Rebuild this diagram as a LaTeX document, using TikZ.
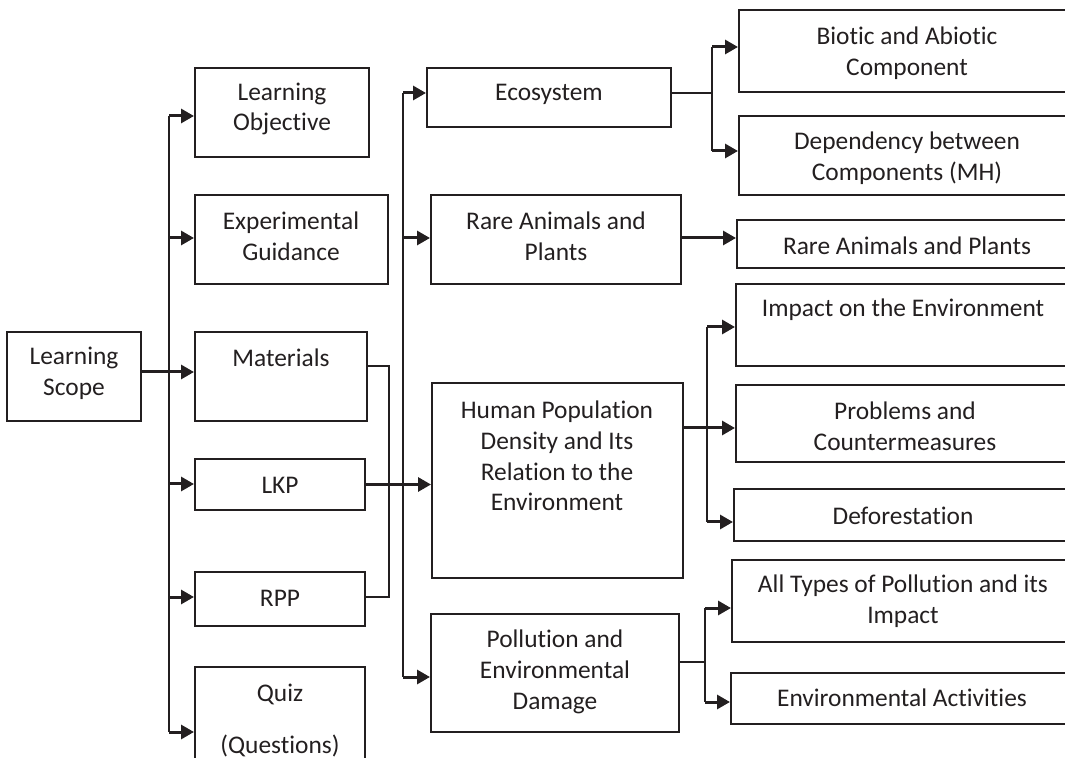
\documentclass[tikz,border=0pt]{standalone}
\usepackage{fontspec}
\setmainfont[RawFeature={-liga;-dlig}]{Carlito}
\usetikzlibrary{arrows.meta,fit}
\definecolor{ink}{HTML}{231F20}
\tikzset{
  box/.style={draw=ink,line width=1pt,inner sep=0pt},
  txt/.style={align=center,font=\fontsize{12.7}{15.4}\selectfont,text=ink,inner sep=0pt},
  arr/.style={line width=1.5pt,draw=ink,-{Triangle[length=6.5pt,width=7pt]}},
  trunk/.style={line width=1pt,draw=ink},
  thinl/.style={line width=0.7pt,draw=ink}
}
\newcommand\mkbox[3]{\node[box,fit={(#2) (#3)}] (#1) {};}
\begin{document}
\begin{tikzpicture}[x=0.5pt,y=-0.5pt]
\useasboundingbox (0,0) rectangle (1065,758);
\clip (0,0) rectangle (1065,758);
% boxes
\mkbox{scope}{7,332}{141,421}
\mkbox{obj}{195,68}{369,157}
\mkbox{exp}{195,195}{388,284}
\mkbox{mat}{195,332}{367,421}
\mkbox{lkp}{195,459}{365,510}
\mkbox{rpp}{195,572}{365,626}
\mkbox{quiz}{195,667}{365,775}
\mkbox{eco}{427,68}{671,127}
\mkbox{rare}{431,195}{681,284}
\mkbox{hum}{432,383}{683,578}
\mkbox{poll}{431,614}{679,732}
\mkbox{bio}{739,10}{1075,92}
\mkbox{dep}{739,116}{1075,195}
\mkbox{rare2}{737,220}{1075,268}
\mkbox{imp}{736,284}{1075,366}
\mkbox{prob}{736,385}{1075,462}
\mkbox{def}{734,489}{1075,541}
\mkbox{allt}{732,560}{1075,642}
\mkbox{act}{731,673}{1075,724}
% texts
\node[txt] (tscope) at (74,373) {Learning\\Scope};
\node[txt] (tobj) at (282,109) {Learning\\Objective};
\node[txt] (texp) at (291,236) {Experimental\\Guidance};
\node[txt] (tmat) at (281,358) {Materials};
\node[txt] (tlkp) at (280,485) {LKP};
\node[txt] (trpp) at (280,598) {RPP};
\node[txt] (tquiz) at (280,694) {Quiz};
\node[txt] (tques) at (280,746) {(Questions)};
\node[txt] (teco) at (549,94) {Ecosystem};
\node[txt] (trare) at (556,236.5) {Rare Animals and\\Plants};
\node[txt] (thum) at (557,456) {Human Population\\Density and Its\\Relation to the\\Environment};
\node[txt] (tpoll) at (555,672) {Pollution and\\Environmental\\Damage};
\node[txt] (tbio) at (907,53) {Biotic and Abiotic\\Component};
\node[txt] (tdep) at (907,158.5) {Dependency between\\Components (MH)};
\node[txt] (trare2) at (907,246) {Rare Animals and Plants};
\node[txt] (timp) at (903,310) {Impact on the Environment};
\node[txt] (tprob) at (905,426.5) {Problems and\\Countermeasures};
\node[txt] (tdef) at (903,516) {Deforestation};
\node[txt] (tallt) at (903,601) {All Types of Pollution and its\\Impact};
\node[txt] (tact) at (902,698) {Environmental Activities};
% left trunk
\coordinate (L1) at (169,116);
\coordinate (L2) at (169,238);
\coordinate (L3) at (169,372);
\coordinate (L4) at (169,484);
\coordinate (L5) at (169,597);
\coordinate (L6) at (169,732);
\draw[trunk] (L1) -- (L6);
\draw[arr] (L1) -- (L1 -| obj.west);
\draw[arr] (L2) -- (L2 -| exp.west);
\draw[arr] (L3 -| scope.east) -- (L3 -| mat.west);
\draw[arr] (L4) -- (L4 -| lkp.west);
\draw[arr] (L5) -- (L5 -| rpp.west);
\draw[arr] (L6) -- (L6 -| quiz.west);
% bracket materials-rpp
\coordinate (B1) at (389,366);
\coordinate (B2) at (389,597);
\draw[thinl] (B1 -| mat.east) -- (B1) -- (B2) -- (B2 -| rpp.east);
% middle trunk
\coordinate (M1) at (403,93);
\coordinate (M2) at (403,238);
\coordinate (M3) at (403,677);
\draw[trunk] (M1) -- (M3);
\draw[arr] (M1) -- (M1 -| eco.west);
\draw[arr] (M2) -- (M2 -| rare.west);
\draw[arr] (M3) -- (M3 -| poll.west);
\draw[arr] (lkp.east) -- (lkp.east -| hum.west);
% ecosystem branches
\coordinate (E0) at (712,93);
\coordinate (E1) at (712,47);
\coordinate (E2) at (712,151);
\draw[thinl] (E0 -| eco.east) -- (E0);
\draw[trunk] (E1) -- (E2);
\draw[arr] (E1) -- (E1 -| bio.west);
\draw[arr] (E2) -- (E2 -| dep.west);
% rare
\coordinate (R0) at (700,238);
\draw[arr] (R0 -| rare.east) -- (R0 -| rare2.west);
% human branches
\coordinate (H1) at (707,327);
\coordinate (H2) at (707,428);
\coordinate (H3) at (707,522);
\draw[trunk] (H1) -- (H3);
\draw[arr] (H2 -| hum.east) -- (H2 -| prob.west);
\draw[arr] (H1) -- (H1 -| imp.west);
\draw[arr] (H3) -- (H3 -| def.west);
% pollution branches
\coordinate (P0) at (705,662);
\coordinate (P1) at (705,608);
\coordinate (P2) at (705,702);
\draw[thinl] (P0 -| poll.east) -- (P0);
\draw[trunk] (P1) -- (P2);
\draw[arr] (P1) -- (P1 -| allt.west);
\draw[arr] (P2) -- (P2 -| act.west);
\end{tikzpicture}
\end{document}
